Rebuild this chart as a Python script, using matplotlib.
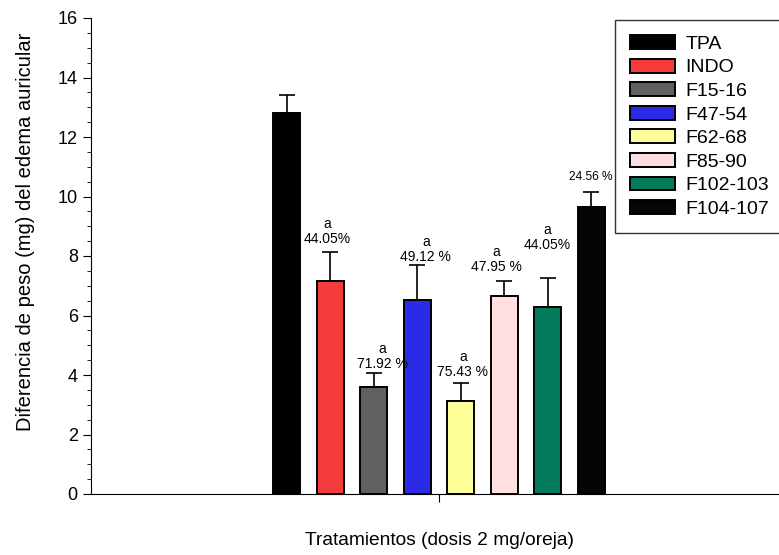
import matplotlib.pyplot as plt

plt.rcParams['font.family'] = ['Liberation Sans', 'DejaVu Sans']

# data
treatments = ['TPA', 'INDO', 'F15-16', 'F47-54', 'F62-68', 'F85-90', 'F102-103', 'F104-107']
means = [12.82, 7.16, 3.58, 6.51, 3.13, 6.64, 6.30, 9.66]
errors = [0.59, 0.98, 0.50, 1.19, 0.59, 0.51, 0.97, 0.50]
colors = ['#000000', '#f53c3c', '#606060', '#2b2be6', '#ffff99', '#ffdfdf', '#047b5a', '#050505']
inhibition = ['', '44.05%', '71.92 %', '49.12 %', '75.43 %', '47.95 %', '44.05%', '24.56 %']
letters = ['', 'a', 'a', 'a', 'a', 'a', 'a', '']
label_y = [0, 8.57, 4.38, 7.97, 4.10, 7.63, 8.37, 10.66]
label_dx = [0, -0.07, 0.2, 0.2, 0.05, -0.18, 0.0, 0.0]

fig = plt.figure(figsize=(7.79, 5.55), dpi=100)
ax = fig.add_axes([91 / 779, 1 - 494 / 555, 1 - 91 / 779, 476 / 555])

x = list(range(len(treatments)))
bars = ax.bar(x, means, width=0.62, color=colors, edgecolor='black', linewidth=1.4,
              label=treatments, zorder=2)
ax.errorbar(x, means, yerr=[[0] * len(means), errors], fmt='none', ecolor='black',
            elinewidth=1.2, capsize=6, capthick=1.2, zorder=1)

for xi, pct, let, ly, dx in zip(x, inhibition, letters, label_y, label_dx):
    if pct:
        fs = 8.6 if not let else 10
        ax.text(xi + dx, ly, pct, ha='center', va='center', fontsize=fs)
    if let:
        ax.text(xi + dx, ly + 0.5, let, ha='center', va='center', fontsize=10)

ax.set_ylim(0, 16)
ax.set_xlim(-4.5, 11.32)
ax.set_yticks(range(0, 17, 2))
ax.set_yticks([v / 2 for v in range(0, 33)], minor=True)
ax.set_xticks([3.5])
ax.set_xticklabels([''])
ax.tick_params(axis='both', which='major', length=6, labelsize=13, direction='out')
ax.tick_params(axis='y', which='minor', length=3)
ax.spines['top'].set_visible(False)
ax.spines['right'].set_visible(False)

ax.set_ylabel('Diferencia de peso (mg) del edema auricular', fontsize=14.5)
ax.yaxis.set_label_coords(-0.082, 0.55)
ax.set_xlabel('Tratamientos (dosis 2 mg/oreja)', fontsize=13.8)
ax.xaxis.set_label_coords(0.507, -0.08)

leg = ax.legend(handles=list(bars), labels=treatments, loc='upper left',
                bbox_to_anchor=(524 / 688, 1 - 2 / 476), fontsize=14, frameon=True,
                fancybox=False, edgecolor='black', handlelength=2.3, handleheight=0.72,
                labelspacing=0.3, borderpad=0.78, handletextpad=0.55, borderaxespad=0.0)
leg.get_frame().set_linewidth(1.0)

plt.savefig('out.png', dpi=100)
